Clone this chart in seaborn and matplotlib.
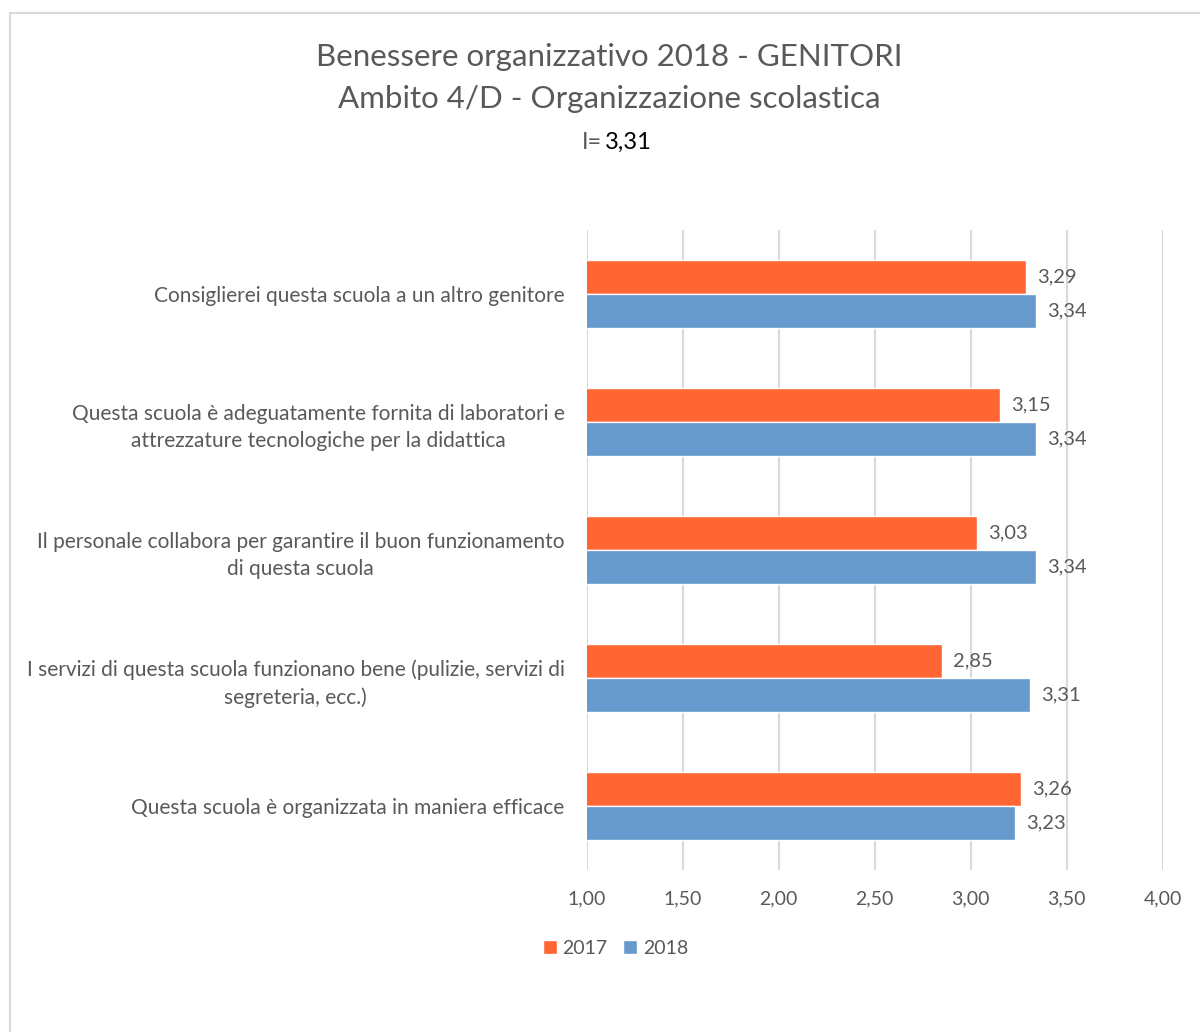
import pandas as pd
import matplotlib.pyplot as plt
import seaborn as sns
from matplotlib.patches import Rectangle

# data
items = [
    "Consiglierei questa scuola a un altro genitore",
    "Questa scuola è adeguatamente fornita di laboratori e\nattrezzature tecnologiche per la didattica",
    "Il personale collabora per garantire il buon funzionamento\ndi questa scuola",
    "I servizi di questa scuola funzionano bene (pulizie, servizi di\nsegreteria, ecc.)",
    "Questa scuola è organizzata in maniera efficace",
]
val_2017 = [3.29, 3.15, 3.03, 2.85, 3.26]
val_2018 = [3.34, 3.34, 3.34, 3.31, 3.23]
years = ["2017", "2018"]
colors = ["#FF6633", "#6699CC"]
x_ticks = [1.0, 1.5, 2.0, 2.5, 3.0, 3.5, 4.0]
index_value = 3.31

df = pd.DataFrame({
    "item": items * 2,
    "anno": [years[0]] * len(items) + [years[1]] * len(items),
    "valore": val_2017 + val_2018,
})

sns.set_style("white")
plt.rcParams['font.family'] = ['Lato', 'DejaVu Sans']
grey = "#595959"

fig = plt.figure(figsize=(12, 10.32), dpi=100)
ax = fig.add_axes([0.489, 0.157, 0.48, 0.62])

sns.barplot(data=df, y="item", x="valore", hue="anno", order=items,
            hue_order=years, palette=colors, width=0.53, orient="h",
            ax=ax, legend=True, saturation=1)

for cont in ax.containers:
    labs = [f"{b.get_width():.2f}".replace(".", ",") for b in cont]
    ax.bar_label(cont, labels=labs, padding=8, fontsize=14.5, color=grey)

ax.set_xlim(1, 4)
ax.set_xticks(x_ticks)
ax.set_xticklabels([f"{t:.2f}".replace(".", ",") for t in x_ticks])
ax.grid(axis="x", color="#D9D9D9", linewidth=1.5)
ax.set_axisbelow(True)
for s in ax.spines.values():
    s.set_visible(False)
ax.set_xlabel("")
ax.set_ylabel("")
ax.tick_params(axis="x", labelsize=14, labelcolor=grey, pad=15, length=0)
ax.tick_params(axis="y", labelsize=15, labelcolor=grey, pad=16, length=0)
for lab in ax.get_yticklabels():
    lab.set_multialignment("center")
    lab.set_linespacing(1.45)

ax.get_legend().remove()
handles, labels = ax.get_legend_handles_labels()
fig.legend(handles, labels, loc="center", bbox_to_anchor=(0.513, 0.081), ncol=2,
           frameon=False, fontsize=14, labelcolor=grey, handlelength=0.7,
           handleheight=0.7, handletextpad=0.3, columnspacing=0.8)

fig.text(0.508, 0.945, "Benessere organizzativo 2018 - GENITORI", ha="center",
         va="center", fontsize=22.5, color=grey)
fig.text(0.508, 0.904, "Ambito 4/D - Organizzazione scolastica", ha="center",
         va="center", fontsize=22.5, color=grey)
fig.text(0.502, 0.862, "I=", ha="right", va="center", fontsize=17, color=grey)
fig.text(0.504, 0.862, f"{index_value:.2f}".replace(".", ","), ha="left",
         va="center", fontsize=17, color="black")

# chart frame
fig.patches.append(Rectangle((10 / 1200, -0.01), 1.0, 1 - 13 / 1032 + 0.01,
                             transform=fig.transFigure, fill=False,
                             edgecolor="#D9D9D9", linewidth=1.5))

fig.savefig("out.png", dpi=100, facecolor="white")
